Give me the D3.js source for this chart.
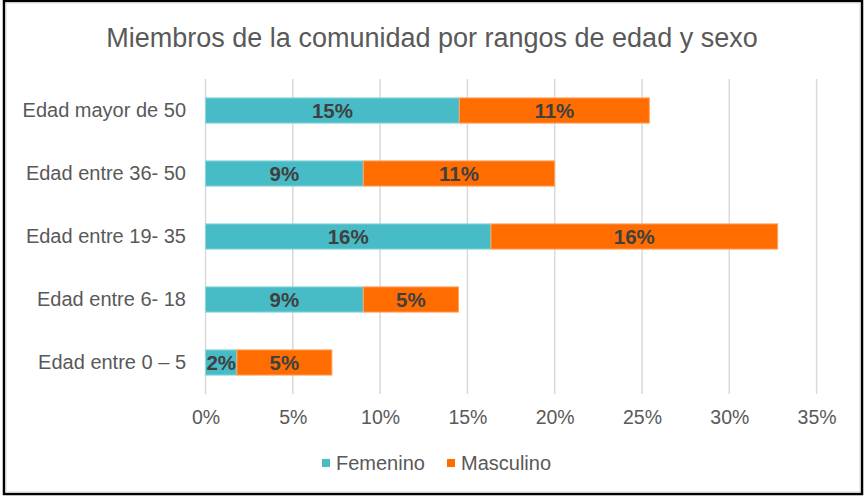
<!DOCTYPE html>
<html>
<head>
<meta charset="utf-8">
<script src="https://cdn.jsdelivr.net/npm/d3@7"></script>
<style>
  body { margin: 0; background: #fff; }
  svg text { font-family: 'Liberation Sans', Arial, sans-serif; }
</style>
</head>
<body>
<div id="chart"></div>
<script>
// datos (proporción)
const categories = ['Edad mayor de 50', 'Edad entre 36- 50', 'Edad entre 19- 35', 'Edad entre 6- 18', 'Edad entre 0 – 5']
const femenino = [0.1454, 0.0904, 0.1635, 0.0904, 0.018]
const masculino = [0.1088, 0.1096, 0.1642, 0.0545, 0.0544]
const seriesNames = ['Femenino', 'Masculino']
const tickValues = [0, 0.05, 0.10, 0.15, 0.20, 0.25, 0.30, 0.35]

const width = 864
const height = 497
const colors = { Femenino: '#47bcc6', Masculino: '#ff6d01' }
const strokes = { Femenino: '#8fd6dc', Masculino: '#ffa466' }

const svg = d3.select('#chart')
  .append('svg')
  .attr('width', width)
  .attr('height', height)

// marco
svg.append('rect')
  .attr('x', 4).attr('y', 1)
  .attr('width', 858).attr('height', 493)
  .attr('fill', '#fff')
  .attr('stroke', '#000')
  .attr('stroke-width', 2.5)
svg.append('rect')
  .attr('x', 6).attr('y', 3)
  .attr('width', 854).attr('height', 489)
  .attr('fill', 'none')
  .attr('stroke', '#d9d9d9')
  .attr('stroke-width', 1)

svg.append('text')
  .text('Miembros de la comunidad por rangos de edad y sexo')
  .attr('x', 432)
  .attr('y', 47)
  .attr('text-anchor', 'middle')
  .attr('fill', '#595959')
  .style('font-size', '27px')

const x = d3.scaleLinear()
  .domain([0, 0.35])
  .range([205.5, 816.6])

const y = d3.scaleBand()
  .domain(categories)
  .range([79, 394])
  .paddingInner(0.6)
  .paddingOuter(0.3)

// líneas de cuadrícula
svg.append('g')
  .selectAll('line')
  .data(tickValues)
  .enter()
  .append('line')
  .attr('x1', d => x(d))
  .attr('x2', d => x(d))
  .attr('y1', 79)
  .attr('y2', 394)
  .attr('stroke', '#d9d9d9')
  .attr('stroke-width', 1.5)

// eje x (solo etiquetas)
const xAxis = d3.axisBottom(x)
  .tickValues(tickValues)
  .tickFormat(d3.format('.0%'))
  .tickSize(0)
  .tickPadding(0)
const xAxisG = svg.append('g')
  .attr('transform', 'translate(0,405)')
  .call(xAxis)
xAxisG.select('.domain').remove()
xAxisG.selectAll('text')
  .attr('fill', '#595959')
  .attr('dy', '0.95em')
  .style('font-size', '19.5px')

// eje y (categorías)
const yAxis = d3.axisLeft(y).tickSize(0).tickPadding(0)
const yAxisG = svg.append('g')
  .attr('transform', 'translate(186,0)')
  .call(yAxis)
yAxisG.select('.domain').remove()
yAxisG.selectAll('text')
  .attr('fill', '#595959')
  .style('font-size', '20px')

// barras apiladas
const rows = categories.map((c, i) => ({ cat: c, Femenino: femenino[i], Masculino: masculino[i] }))
const stacked = d3.stack().keys(seriesNames)(rows)

const layers = svg.append('g')
  .selectAll('g')
  .data(stacked)
  .enter()
  .append('g')

layers.selectAll('rect')
  .data(s => s.map(d => ({ key: s.key, d })))
  .enter()
  .append('rect')
  .attr('x', v => x(v.d[0]))
  .attr('y', v => y(v.d.data.cat))
  .attr('width', v => x(v.d[1]) - x(v.d[0]))
  .attr('height', y.bandwidth())
  .attr('fill', v => colors[v.key])
  .attr('stroke', v => strokes[v.key])
  .attr('stroke-width', 1)

layers.selectAll('text')
  .data(s => s.map(d => ({ key: s.key, d })))
  .enter()
  .append('text')
  .text(v => d3.format('.0%')(v.d[1] - v.d[0]))
  .attr('x', v => (x(v.d[0]) + x(v.d[1])) / 2)
  .attr('y', v => y(v.d.data.cat) + y.bandwidth() / 2)
  .attr('dy', '0.36em')
  .attr('text-anchor', 'middle')
  .attr('fill', '#404040')
  .style('font-size', '20.5px')
  .style('font-weight', 'bold')

// leyenda
const legendItems = [
  { key: 'Femenino', x: 322 },
  { key: 'Masculino', x: 447 }
]
const legend = svg.append('g')
  .selectAll('g')
  .data(legendItems)
  .enter()
  .append('g')
  .attr('transform', d => `translate(${d.x},463)`)
legend.append('rect')
  .attr('x', 0)
  .attr('y', -4)
  .attr('width', 8)
  .attr('height', 8)
  .attr('fill', d => colors[d.key])
legend.append('text')
  .text(d => d.key)
  .attr('x', 14)
  .attr('dy', '0.36em')
  .attr('fill', '#595959')
  .style('font-size', '20px')
</script>
</body>
</html>
